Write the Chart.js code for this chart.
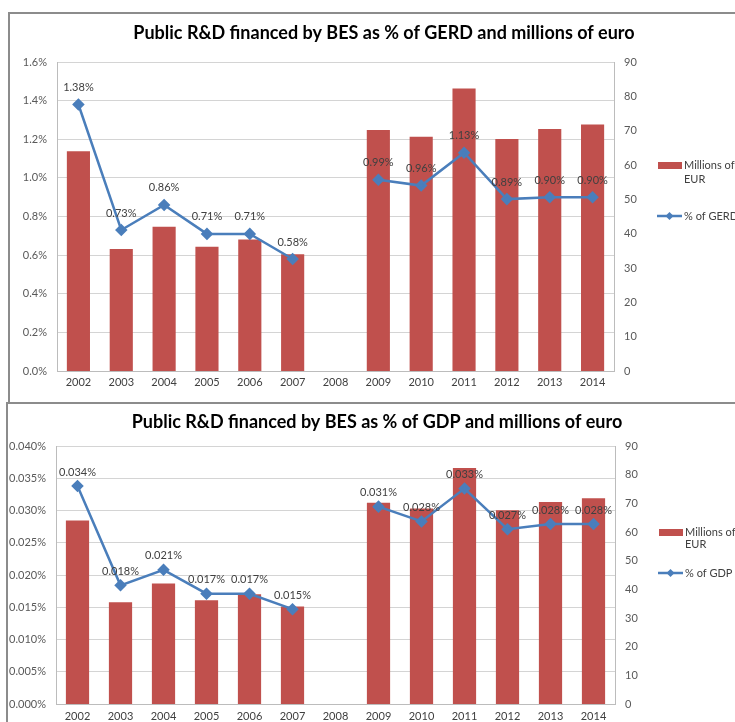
<!DOCTYPE html>
<html>
<head>
<meta charset="utf-8">
<script src="https://cdn.jsdelivr.net/npm/chart.js@4"></script>
<style>
  html, body { margin: 0; padding: 0; background: #fff; overflow: hidden; }
  body { width: 735px; height: 722px; position: relative; }
  .frame { position: absolute; border: 2px solid #8c8c8c; }
  .box { position: absolute; left: 0; width: 735px; }
</style>
</head>
<body>
<div class="frame" style="left:8px; top:12px; width:760px; height:388px;"></div>
<div class="frame" style="left:6px; top:402px; width:760px; height:340px;"></div>
<div class="box" style="top:0; height:401px;"><canvas id="gerdChart"></canvas></div>
<div class="box" style="top:404px; height:318px;"><canvas id="gdpChart"></canvas></div>
<script>
const years = ['2002', '2003', '2004', '2005', '2006', '2007', '2008', '2009', '2010', '2011', '2012', '2013', '2014'];
const millionsEur = [64.0, 35.5, 42.0, 36.2, 38.3, 34.0, null, 70.2, 68.2, 82.3, 67.6, 70.5, 71.8];
const pctOfGerd = [1.38, 0.73, 0.86, 0.71, 0.71, 0.58, null, 0.99, 0.96, 1.13, 0.89, 0.90, 0.90];
const pctOfGdp = [0.0338, 0.0184, 0.0208, 0.0171, 0.0171, 0.0147, null, 0.0306, 0.0283, 0.0334, 0.0271, 0.0279, 0.0279];

const FONT = 'Lato, "Open Sans", sans-serif';
const BAR_RED = '#C0504D';
const LINE_BLUE = '#4A7EBB';

// title, point labels and the boxed legend on the right, drawn like the excel original
const excelBits = {
  id: 'excelBits',
  afterDatasetsDraw(chart, args, opts) {
    const ctx = chart.ctx;
    ctx.save();
    // point labels
    const meta = chart.getDatasetMeta(0);
    ctx.font = '11px ' + FONT;
    ctx.fillStyle = '#404040';
    ctx.textAlign = 'center';
    ctx.textBaseline = 'middle';
    meta.data.forEach((pt, i) => {
      const v = chart.data.datasets[0].data[i];
      if (v == null) return;
      ctx.fillText(v.toFixed(opts.decimals) + '%', pt.x, pt.y - opts.labelOffset);
    });
    ctx.restore();
  },
  afterDraw(chart, args, opts) {
    const ctx = chart.ctx;
    ctx.save();
    ctx.fillStyle = '#000';
    ctx.font = 'bold 18px ' + FONT;
    ctx.textAlign = 'center';
    ctx.textBaseline = 'middle';
    ctx.fillText(opts.title, opts.titleX, opts.titleY);

    const lg = opts.legend;
    ctx.font = '11px ' + FONT;
    ctx.textAlign = 'left';
    ctx.fillStyle = BAR_RED;
    ctx.fillRect(lg.x, lg.barY - 3, 24, 7);
    ctx.fillStyle = '#404040';
    ctx.fillText('Millions of', lg.x + 26, lg.barY);
    ctx.fillText('EUR', lg.x + 26, lg.barY + lg.lineGap);
    ctx.strokeStyle = LINE_BLUE;
    ctx.lineWidth = 2.5;
    ctx.beginPath();
    ctx.moveTo(lg.x - 1, lg.lineY);
    ctx.lineTo(lg.x + 24, lg.lineY);
    ctx.stroke();
    ctx.fillStyle = LINE_BLUE;
    ctx.beginPath();
    ctx.moveTo(lg.x + 11.5, lg.lineY - 4);
    ctx.lineTo(lg.x + 15.5, lg.lineY);
    ctx.lineTo(lg.x + 11.5, lg.lineY + 4);
    ctx.lineTo(lg.x + 7.5, lg.lineY);
    ctx.closePath();
    ctx.fill();
    ctx.fillStyle = '#404040';
    ctx.fillText(opts.lineLabel, lg.x + 26, lg.lineY);
    ctx.restore();
  }
};

function makeChart(id, lineData, lineLabel, pctMax, pctStep, decimals, tickDecimals, cfg) {
  return new Chart(document.getElementById(id), {
    type: 'bar',
    data: {
      labels: years,
      datasets: [
        {
          type: 'line',
          label: lineLabel,
          data: lineData,
          yAxisID: 'y',
          borderColor: LINE_BLUE,
          backgroundColor: LINE_BLUE,
          borderWidth: 2.5,
          pointStyle: 'rectRot',
          pointRadius: 4.5,
          pointHoverRadius: 4.5,
          spanGaps: false,
          tension: 0,
          order: 0,
        },
        {
          type: 'bar',
          label: 'Millions of EUR',
          data: millionsEur,
          yAxisID: 'y1',
          backgroundColor: BAR_RED,
          categoryPercentage: 1,
          barPercentage: 0.54,
          order: 1,
        },
      ],
    },
    options: {
      responsive: true,
      maintainAspectRatio: false,
      animation: false,
      layout: { padding: cfg.padding },
      plugins: {
        legend: { display: false },
        title: { display: false },
        tooltip: { enabled: false },
        excelBits: {
          title: cfg.title,
          titleX: cfg.titleX,
          titleY: cfg.titleY,
          decimals: decimals,
          labelOffset: cfg.labelOffset,
          lineLabel: lineLabel,
          legend: cfg.legend,
        },
      },
      scales: {
        x: {
          offset: true,
          grid: { display: false, drawTicks: false },
          border: { display: true, color: '#bcbcbc' },
          ticks: { color: '#404040', font: { family: FONT, size: 11 }, padding: cfg.xPad, maxRotation: 0 },
          afterFit(s) { s.height = cfg.xHeight; },
        },
        y: {
          position: 'left',
          min: 0,
          max: pctMax,
          ticks: {
            stepSize: pctStep,
            color: '#595959',
            font: { family: FONT, size: 11 },
            padding: 10,
            callback: (v) => v.toFixed(tickDecimals) + '%',
          },
          grid: { color: '#d4d4d4', drawTicks: false },
          border: { display: true, color: '#bcbcbc' },
          afterFit(s) { s.width = cfg.leftWidth; },
        },
        y1: {
          position: 'right',
          min: 0,
          max: 90,
          ticks: { stepSize: 10, color: '#595959', font: { family: FONT, size: 11 }, padding: 10 },
          grid: { display: false, drawTicks: false },
          border: { display: true, color: '#bcbcbc' },
          afterFit(s) { s.width = 40; },
        },
      },
    },
    plugins: [excelBits],
  });
}

makeChart('gerdChart', pctOfGerd, '% of GERD', 1.6, 0.2, 2, 1, {
  title: 'Public R&D financed by BES as % of GERD and millions of euro',
  titleX: 384, titleY: 33,
  padding: { top: 62, left: 0, right: 81, bottom: 8 },
  leftWidth: 57, xHeight: 22, xPad: 5, labelOffset: 17,
  legend: { x: 658, barY: 165, lineGap: 14, lineY: 216 },
});

makeChart('gdpChart', pctOfGdp, '% of GDP', 0.04, 0.005, 3, 3, {
  title: 'Public R&D financed by BES as % of GDP and millions of euro',
  titleX: 377, titleY: 18,
  padding: { top: 42, left: 0, right: 80, bottom: 0 },
  leftWidth: 56, xHeight: 18, xPad: 6, labelOffset: 14,
  legend: { x: 659, barY: 128, lineGap: 12, lineY: 169 },
});
</script>
</body>
</html>
